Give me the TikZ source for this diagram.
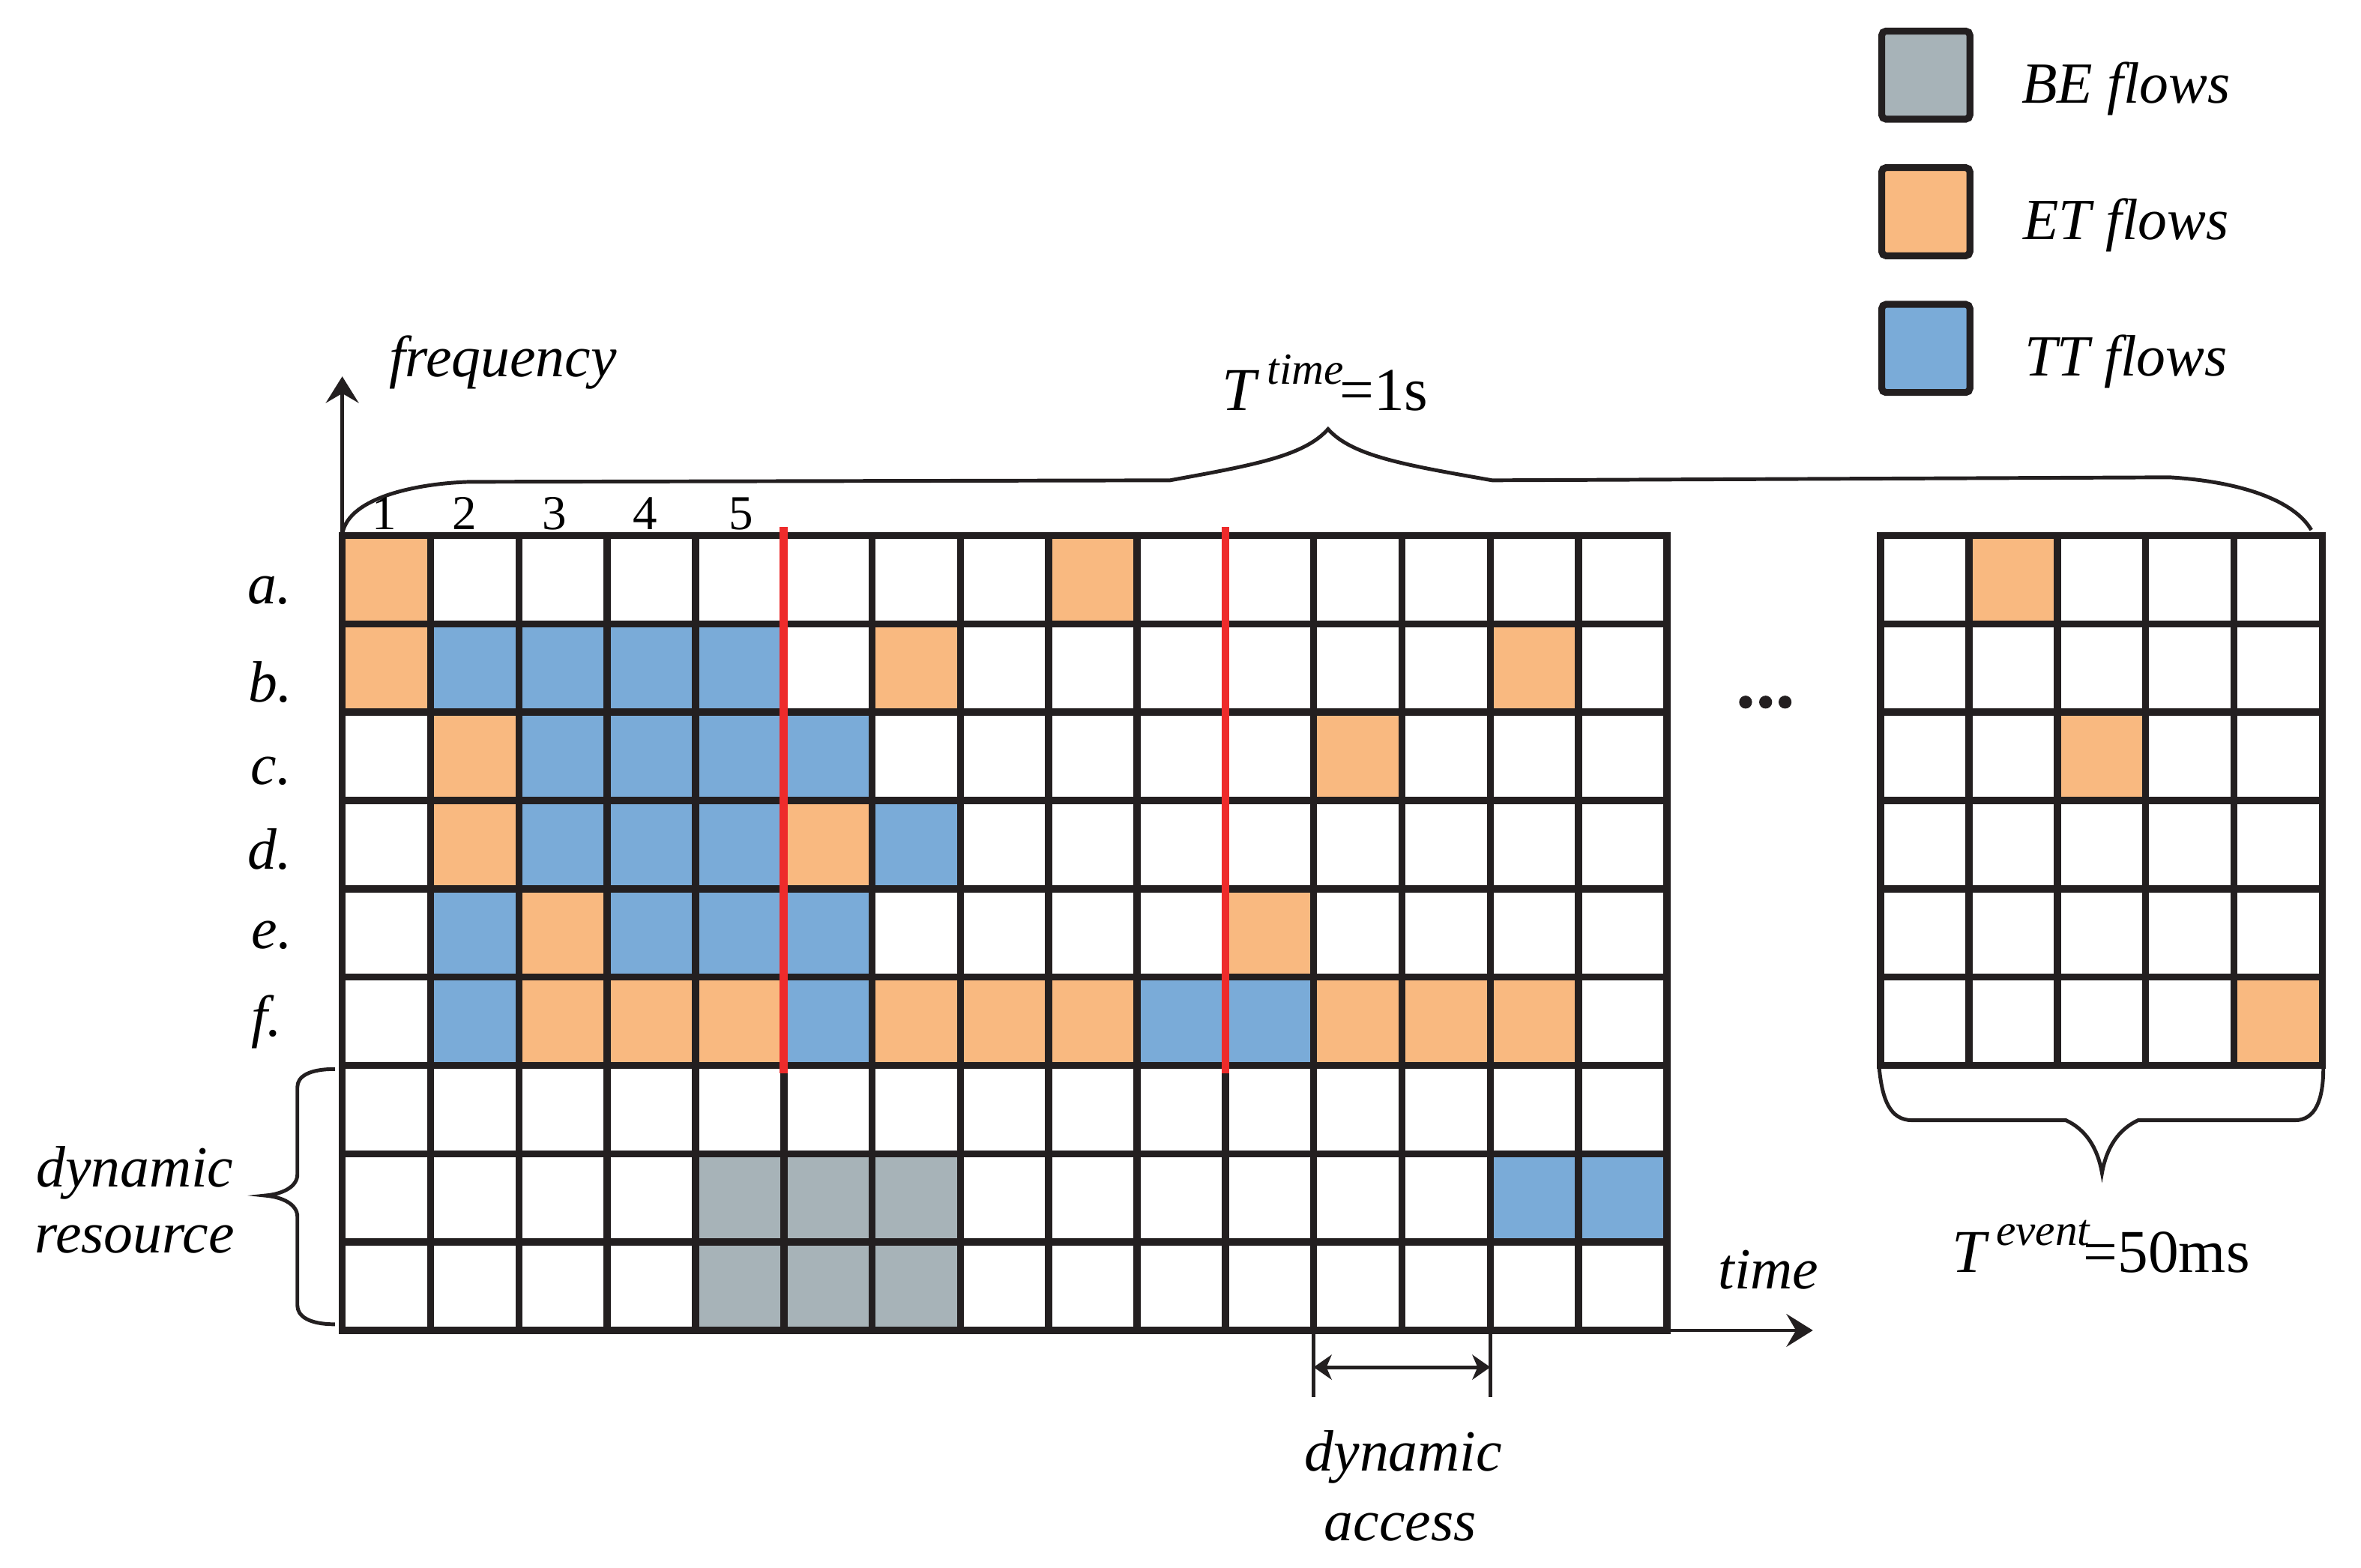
\documentclass[tikz,border=0pt]{standalone}
\usepackage{fontspec}
\setmainfont{Liberation Serif}
\usetikzlibrary{arrows.meta}
\definecolor{etc}{HTML}{F9B980}
\definecolor{ttc}{HTML}{7AABD8}
\definecolor{bec}{HTML}{A7B3B8}
\definecolor{gridc}{HTML}{231F20}
\definecolor{redc}{HTML}{EE2B2B}
\begin{document}
\begin{tikzpicture}[x=0.01cm, y=-0.01cm,
  gridline/.style={draw=gridc, line width=1.35pt},
  braceline/.style={draw=gridc, line width=0.7pt},
  axisline/.style={draw=gridc, line width=0.7pt, -{Stealth[length=5pt,width=6.2pt,inset=1.8pt]}},
  dblarrow/.style={draw=gridc, line width=0.7pt, {Stealth[length=3.4pt,width=4.7pt,inset=1pt]}-{Stealth[length=3.4pt,width=4.7pt,inset=1pt]}},
  redline/.style={draw=redc, line width=1.5pt},
  lbl/.style={inner sep=0pt, anchor=base, font=\fontsize{11}{13}\selectfont\itshape},
  numlbl/.style={inner sep=0pt, anchor=base, font=\fontsize{9.2}{11}\selectfont},
  biglbl/.style={inner sep=0pt, anchor=base west, font=\fontsize{11.5}{13}\selectfont},
  suplbl/.style={inner sep=0pt, anchor=base west, font=\fontsize{8.4}{10}\selectfont\itshape},
  legbox/.style={draw=gridc, line width=1.3pt, rounded corners=0.8pt, minimum width=0.585cm, minimum height=0.585cm, inner sep=0pt}
]
\useasboundingbox (0,0) rectangle (1568,1041.3);
\def\cw{58.65}
\def\gx{227.3}
\def\gy{355.7}
\def\rx{1249}
% ---- main grid cells ----
\foreach \c/\r in {1/1,9/1,1/2,7/2,14/2,2/3,12/3,2/4,6/4,3/5,11/5,3/6,4/6,5/6,7/6,8/6,9/6,12/6,13/6,14/6}
  \fill[etc] ({\gx+(\c-1)*\cw},{\gy+(\r-1)*\cw}) rectangle ++(\cw,\cw);
\foreach \c/\r in {2/2,3/2,4/2,5/2,3/3,4/3,5/3,6/3,3/4,4/4,5/4,7/4,2/5,4/5,5/5,6/5,2/6,6/6,10/6,11/6,14/8,15/8}
  \fill[ttc] ({\gx+(\c-1)*\cw},{\gy+(\r-1)*\cw}) rectangle ++(\cw,\cw);
\foreach \c/\r in {5/8,6/8,7/8,5/9,6/9,7/9}
  \fill[bec] ({\gx+(\c-1)*\cw},{\gy+(\r-1)*\cw}) rectangle ++(\cw,\cw);
% ---- right grid cells ----
\foreach \c/\r in {2/1,3/3,5/6}
  \fill[etc] ({\rx+(\c-1)*\cw},{\gy+(\r-1)*\cw}) rectangle ++(\cw,\cw);
% ---- axes ----
\coordinate (origin) at (\gx,{\gy+9*\cw});
\coordinate (ytip) at (\gx,250);
\coordinate (xtip) at (1204,{\gy+9*\cw});
\draw[axisline] (origin) -- (ytip);
\draw[axisline] (origin) -- (xtip);
% ---- main grid lines ----
\foreach \i in {1,...,14}
  \draw[gridline] ({\gx+\i*\cw},\gy) -- ({\gx+\i*\cw},{\gy+9*\cw});
\foreach \j in {1,...,8}
  \draw[gridline] (\gx,{\gy+\j*\cw}) -- ({\gx+15*\cw},{\gy+\j*\cw});
\draw[gridline] (\gx,\gy) rectangle ({\gx+15*\cw},{\gy+9*\cw});
% ---- right grid lines ----
\foreach \i in {1,...,4}
  \draw[gridline] ({\rx+\i*\cw},\gy) -- ({\rx+\i*\cw},{\gy+6*\cw});
\foreach \j in {1,...,5}
  \draw[gridline] (\rx,{\gy+\j*\cw}) -- ({\rx+5*\cw},{\gy+\j*\cw});
\draw[gridline] (\rx,\gy) rectangle ({\rx+5*\cw},{\gy+6*\cw});
% ---- red lines ----
\draw[redline] ({\gx+5*\cw},350) -- ({\gx+5*\cw},712.8);
\draw[redline] ({\gx+10*\cw},350) -- ({\gx+10*\cw},712.8);
% ---- top brace ----
\draw[braceline] (227.5,354) .. controls (232,330) and (278,321) .. (312,320)
  -- (777,319) .. controls (832,309) and (866,303) .. (882,285)
  .. controls (898,303) and (934,309) .. (991,319)
  -- (1441,317) .. controls (1490,320) and (1524,333) .. (1535,352);
% ---- bottom brace (right grid) ----
\draw[braceline] (1248,709) .. controls (1250,730) and (1255,744) .. (1270,744)
  -- (1372,744) .. controls (1385,750) and (1393,762) .. (1396,779)
  .. controls (1399,762) and (1407,750) .. (1420,744)
  -- (1524,744) .. controls (1538,744) and (1543,730) .. (1543,709);
% ---- left brace (dynamic resource) ----
\draw[braceline] (222.4,710) .. controls (205,710) and (197.5,715) .. (197.5,722)
  -- (197.5,780) .. controls (197.5,788) and (188,793) .. (176,794)
  .. controls (188,795) and (197.5,800) .. (197.5,808)
  -- (197.5,867) .. controls (197.5,874) and (205,879.5) .. (222.4,879.5);
% ---- dynamic access ----
\coordinate (da0) at ({\gx+11*\cw},{\gy+9*\cw});
\coordinate (db0) at ({\gx+13*\cw},{\gy+9*\cw});
\coordinate (da1) at ({\gx+11*\cw},928);
\coordinate (db1) at ({\gx+13*\cw},928);
\coordinate (da) at ({\gx+11*\cw},908);
\coordinate (db) at ({\gx+13*\cw},908);
\draw[braceline] (da0) -- (da1);
\draw[braceline] (db0) -- (db1);
\draw[dblarrow] (da) -- (db);
% ---- ellipsis ----
\fill[gridc] (1159.3,466.3) circle[radius=0.043cm];
\fill[gridc] (1172.6,466.3) circle[radius=0.043cm];
\fill[gridc] (1185.5,466.3) circle[radius=0.043cm];
% ---- legend ----
\node[legbox, fill=bec] (legBE) at (1279,49.9) {};
\node[legbox, fill=etc] (legET) at (1279,140.6) {};
\node[legbox, fill=ttc] (legTT) at (1279,231.4) {};
\node[lbl] (txtBE) at (1412,68.3) {BE flows};
\node[lbl] (txtET) at (1412,159) {ET flows};
\node[lbl] (txtTT) at (1412,249.8) {TT flows};
% ---- labels ----
\node[lbl] (freq) at (334,250) {frequency};
\node[lbl] (timelbl) at (1174.5,856) {time};
\node[lbl] (dr1) at (89.5,788) {dynamic};
\node[lbl] (dr2) at (89.5,832) {resource};
\node[lbl] (dac1) at (932,977) {dynamic};
\node[lbl] (dac2) at (930,1023) {access};
\node[lbl] (la) at (179,401) {a.};
\node[lbl] (lb) at (179.5,466) {b.};
\node[lbl] (lc) at (180,521) {c.};
\node[lbl] (ld) at (179,577) {d.};
\node[lbl] (le) at (180.5,630) {e.};
\node[lbl] (lf) at (177,688) {f.};
\node[numlbl] (n1) at (255,351.8) {1};
\node[numlbl] (n2) at (308.5,351.8) {2};
\node[numlbl] (n3) at (368.2,351.8) {3};
\node[numlbl] (n4) at (428.5,351.8) {4};
\node[numlbl] (n5) at (492.2,351.8) {5};
% ---- period labels ----
\node[biglbl, font=\fontsize{11.5}{13}\selectfont\itshape] (Ttime) at (811,272.3) {T};
\node[suplbl] (suptime) at (841,255) {time};
\node[biglbl] (eqtime) at (889,272.3) {=1s};
\node[biglbl, font=\fontsize{11.5}{13}\selectfont\itshape] (Tevent) at (1296,845) {T};
\node[suplbl] (supevent) at (1325,827) {event};
\node[biglbl] (eqevent) at (1383,845) {=50ms};
\end{tikzpicture}
\end{document}
